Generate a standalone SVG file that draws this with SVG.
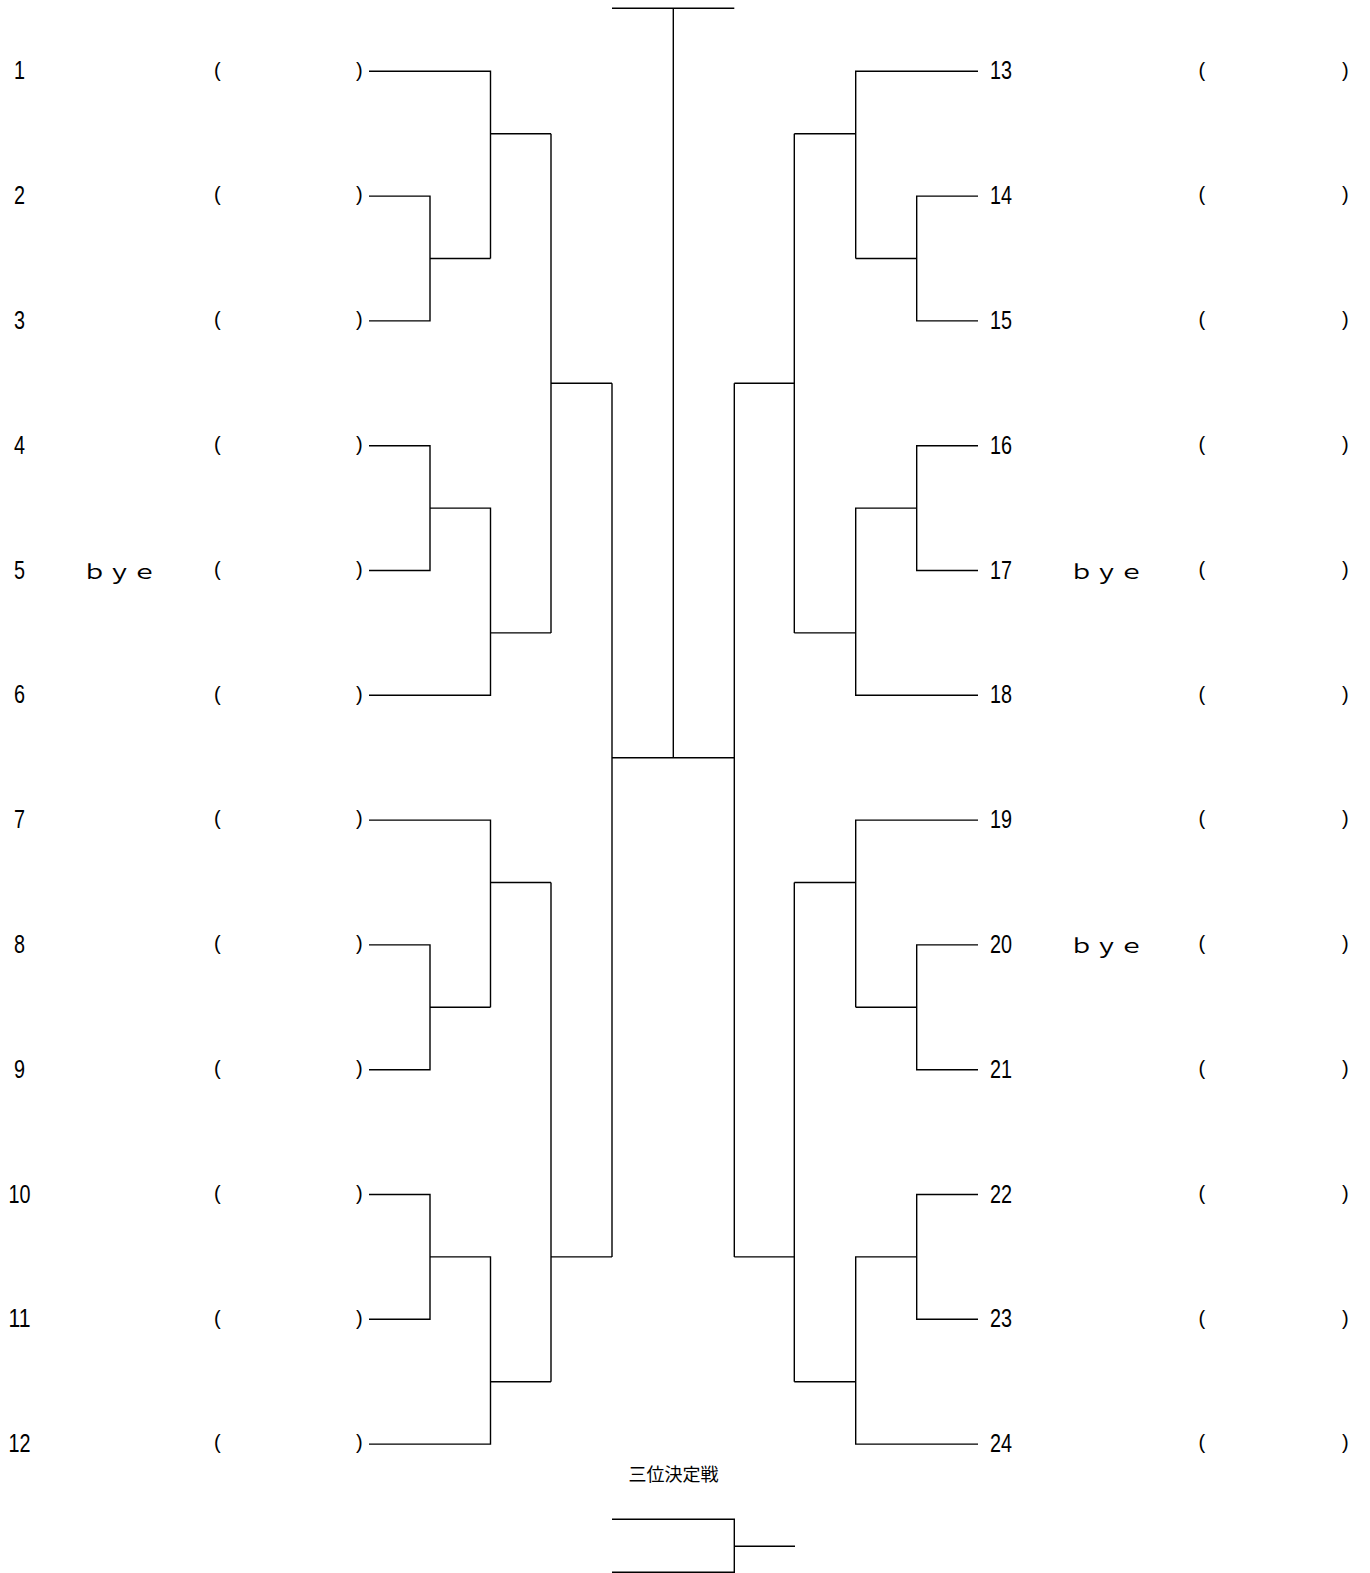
<svg xmlns="http://www.w3.org/2000/svg" width="1370" height="1573" viewBox="0 0 1370 1573">
<style>
.num{font-family:"Liberation Sans","Noto Sans CJK JP",sans-serif;font-size:26px;fill:#000;text-anchor:middle}
.par{font-family:"Liberation Sans","Noto Sans CJK JP",sans-serif;font-size:20px;fill:#000}
.bye{font-family:"Noto Sans CJK JP",sans-serif;font-size:20px;fill:#000}
.ttl{font-family:"Noto Sans CJK JP",sans-serif;font-size:18px;fill:#000;text-anchor:middle}
.ln{fill:none;stroke:#000;stroke-width:1.4}
</style>
<rect width="1370" height="1573" fill="#fff"/>
<g id="connectors" class="ln">
<!-- left side -->
<path d="M369,71.3H490.5V258.5M369,196.1H430V320.9H369M430,258.5H490.5M490.5,133.7H551"/>
<path d="M369,445.7H430V570.5H369M430,508.1H490.5V695.3H369M490.5,632.9H551"/>
<path d="M551,133.7V632.9M551,383.3H612"/>
<path d="M369,820.1H490.5V1007.3M369,944.9H430V1069.7H369M430,1007.3H490.5M490.5,882.5H551"/>
<path d="M369,1194.5H430V1319.3H369M430,1256.9H490.5V1444.1H369M490.5,1381.7H551"/>
<path d="M551,882.5V1381.7M551,1256.9H612"/>
<path d="M612,383.3V1256.9"/>
<!-- right side -->
<path d="M978,71.3H855.7V258.5M978,196.1H916.7V320.9H978M916.7,258.5H855.7M855.7,133.7H794.3"/>
<path d="M978,445.7H916.7V570.5H978M916.7,508.1H855.7V695.3H978M855.7,632.9H794.3"/>
<path d="M794.3,133.7V632.9M794.3,383.3H734.3"/>
<path d="M978,820.1H855.7V1007.3M978,944.9H916.7V1069.7H978M916.7,1007.3H855.7M855.7,882.5H794.3"/>
<path d="M978,1194.5H916.7V1319.3H978M916.7,1256.9H855.7V1444.1H978M855.7,1381.7H794.3"/>
<path d="M794.3,882.5V1381.7M794.3,1256.9H734.3"/>
<path d="M734.3,383.3V1256.9"/>
<!-- final -->
<path d="M612,757.7H734.3M673.3,8.3V757.7M612,8.3H734.3"/>
<!-- third place -->
<path d="M612,1519.3H734.3V1572.3H612M734.3,1546.3H795"/>
</g>
<g id="entry-1"><text class="num" x="19.5" y="79.3" textLength="11" lengthAdjust="spacingAndGlyphs">1</text><text class="par" x="214" y="76.5">(</text><text class="par" x="356" y="76.5">)</text></g>
<g id="entry-2"><text class="num" x="19.5" y="204.1" textLength="11" lengthAdjust="spacingAndGlyphs">2</text><text class="par" x="214" y="201.3">(</text><text class="par" x="356" y="201.3">)</text></g>
<g id="entry-3"><text class="num" x="19.5" y="328.9" textLength="11" lengthAdjust="spacingAndGlyphs">3</text><text class="par" x="214" y="326.1">(</text><text class="par" x="356" y="326.1">)</text></g>
<g id="entry-4"><text class="num" x="19.5" y="453.7" textLength="11" lengthAdjust="spacingAndGlyphs">4</text><text class="par" x="214" y="450.9">(</text><text class="par" x="356" y="450.9">)</text></g>
<g id="entry-5"><text class="num" x="19.5" y="578.5" textLength="11" lengthAdjust="spacingAndGlyphs">5</text><text class="bye" x="82" y="578.8" textLength="75" lengthAdjust="spacingAndGlyphs">ｂｙｅ</text><text class="par" x="214" y="575.7">(</text><text class="par" x="356" y="575.7">)</text></g>
<g id="entry-6"><text class="num" x="19.5" y="703.3" textLength="11" lengthAdjust="spacingAndGlyphs">6</text><text class="par" x="214" y="700.5">(</text><text class="par" x="356" y="700.5">)</text></g>
<g id="entry-7"><text class="num" x="19.5" y="828.1" textLength="11" lengthAdjust="spacingAndGlyphs">7</text><text class="par" x="214" y="825.3">(</text><text class="par" x="356" y="825.3">)</text></g>
<g id="entry-8"><text class="num" x="19.5" y="952.9" textLength="11" lengthAdjust="spacingAndGlyphs">8</text><text class="par" x="214" y="950.1">(</text><text class="par" x="356" y="950.1">)</text></g>
<g id="entry-9"><text class="num" x="19.5" y="1077.7" textLength="11" lengthAdjust="spacingAndGlyphs">9</text><text class="par" x="214" y="1074.9">(</text><text class="par" x="356" y="1074.9">)</text></g>
<g id="entry-10"><text class="num" x="19.5" y="1202.5" textLength="22" lengthAdjust="spacingAndGlyphs">10</text><text class="par" x="214" y="1199.7">(</text><text class="par" x="356" y="1199.7">)</text></g>
<g id="entry-11"><text class="num" x="19.5" y="1327.3" textLength="22" lengthAdjust="spacingAndGlyphs">11</text><text class="par" x="214" y="1324.5">(</text><text class="par" x="356" y="1324.5">)</text></g>
<g id="entry-12"><text class="num" x="19.5" y="1452.1" textLength="22" lengthAdjust="spacingAndGlyphs">12</text><text class="par" x="214" y="1449.3">(</text><text class="par" x="356" y="1449.3">)</text></g>
<g id="entry-13"><text class="num" x="1001" y="79.3" textLength="22" lengthAdjust="spacingAndGlyphs">13</text><text class="par" x="1198.5" y="76.5">(</text><text class="par" x="1342" y="76.5">)</text></g>
<g id="entry-14"><text class="num" x="1001" y="204.1" textLength="22" lengthAdjust="spacingAndGlyphs">14</text><text class="par" x="1198.5" y="201.3">(</text><text class="par" x="1342" y="201.3">)</text></g>
<g id="entry-15"><text class="num" x="1001" y="328.9" textLength="22" lengthAdjust="spacingAndGlyphs">15</text><text class="par" x="1198.5" y="326.1">(</text><text class="par" x="1342" y="326.1">)</text></g>
<g id="entry-16"><text class="num" x="1001" y="453.7" textLength="22" lengthAdjust="spacingAndGlyphs">16</text><text class="par" x="1198.5" y="450.9">(</text><text class="par" x="1342" y="450.9">)</text></g>
<g id="entry-17"><text class="num" x="1001" y="578.5" textLength="22" lengthAdjust="spacingAndGlyphs">17</text><text class="bye" x="1069" y="578.8" textLength="75" lengthAdjust="spacingAndGlyphs">ｂｙｅ</text><text class="par" x="1198.5" y="575.7">(</text><text class="par" x="1342" y="575.7">)</text></g>
<g id="entry-18"><text class="num" x="1001" y="703.3" textLength="22" lengthAdjust="spacingAndGlyphs">18</text><text class="par" x="1198.5" y="700.5">(</text><text class="par" x="1342" y="700.5">)</text></g>
<g id="entry-19"><text class="num" x="1001" y="828.1" textLength="22" lengthAdjust="spacingAndGlyphs">19</text><text class="par" x="1198.5" y="825.3">(</text><text class="par" x="1342" y="825.3">)</text></g>
<g id="entry-20"><text class="num" x="1001" y="952.9" textLength="22" lengthAdjust="spacingAndGlyphs">20</text><text class="bye" x="1069" y="953.2" textLength="75" lengthAdjust="spacingAndGlyphs">ｂｙｅ</text><text class="par" x="1198.5" y="950.1">(</text><text class="par" x="1342" y="950.1">)</text></g>
<g id="entry-21"><text class="num" x="1001" y="1077.7" textLength="22" lengthAdjust="spacingAndGlyphs">21</text><text class="par" x="1198.5" y="1074.9">(</text><text class="par" x="1342" y="1074.9">)</text></g>
<g id="entry-22"><text class="num" x="1001" y="1202.5" textLength="22" lengthAdjust="spacingAndGlyphs">22</text><text class="par" x="1198.5" y="1199.7">(</text><text class="par" x="1342" y="1199.7">)</text></g>
<g id="entry-23"><text class="num" x="1001" y="1327.3" textLength="22" lengthAdjust="spacingAndGlyphs">23</text><text class="par" x="1198.5" y="1324.5">(</text><text class="par" x="1342" y="1324.5">)</text></g>
<g id="entry-24"><text class="num" x="1001" y="1452.1" textLength="22" lengthAdjust="spacingAndGlyphs">24</text><text class="par" x="1198.5" y="1449.3">(</text><text class="par" x="1342" y="1449.3">)</text></g>
<g id="third-place"><text class="ttl" x="673.5" y="1480.5">三位決定戦</text></g>
</svg>
